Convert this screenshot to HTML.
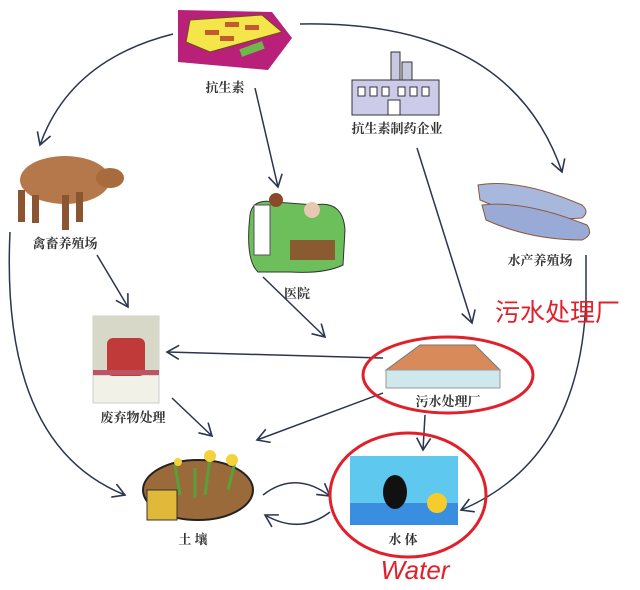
<!DOCTYPE html>
<html><head><meta charset="utf-8"><style>
body{margin:0;background:#fff;width:640px;height:590px;overflow:hidden}
svg{display:block}
.l{font-family:"Liberation Serif","Noto Serif CJK SC",serif;font-size:13px;fill:#333;text-anchor:middle;font-weight:bold}
</style></head><body>
<svg width="640" height="590" viewBox="0 0 640 590">
<defs><marker id="a" markerWidth="16" markerHeight="16" refX="13" refY="8" orient="auto" markerUnits="userSpaceOnUse"><path d="M1,1 L13,8 L1,15" fill="none" stroke="#2b3550" stroke-width="1.6"/></marker></defs>
<g fill="none" stroke="#2b3550" stroke-width="1.5" marker-end="url(#a)">
<path d="M173,34 Q70,60 40,145"/>
<path d="M255,88 L278,187"/>
<path d="M300,24 Q510,20 562,172"/>
<path d="M417,148 L472,323"/>
<path d="M263,277 L325,337"/>
<path d="M97,255 L128,307"/>
<path d="M10,232 Q0,445 125,495"/>
<path d="M586,255 L586,300 Q580,460 461,510"/>
<path d="M383,358 L167,352"/>
<path d="M172,398 L212,436"/>
<path d="M383,393 L257,440"/>
<path d="M425,415 L423,450"/>
<path d="M263,495 Q295,470 330,496"/>
<path d="M330,512 Q300,535 265,515"/>
</g>
<!-- pills -->
<polygon points="178,10 272,12 292,38 268,70 178,62" fill="#b8207a"/>
<polygon points="190,20 262,15 282,32 210,52 186,42" fill="#f4e64a" stroke="#6a5010"/>
<rect x="240" y="45" width="24" height="8" fill="#6cb84a" transform="rotate(-20 252 49)"/>
<g fill="#c45a30"><rect x="205" y="30" width="14" height="5"/><rect x="225" y="22" width="14" height="5"/><rect x="220" y="36" width="14" height="5"/><rect x="245" y="25" width="14" height="5"/></g>
<text class="l" x="225" y="92">抗生素</text>
<!-- factory -->
<rect x="391" y="52" width="9" height="28" fill="#c8c8e0" stroke="#333"/>
<rect x="402" y="62" width="10" height="18" fill="#c8c8e0" stroke="#333"/>
<rect x="352" y="80" width="87" height="35" fill="#ccccea" stroke="#333"/>
<g fill="#fff" stroke="#333"><rect x="358" y="87" width="7" height="9"/><rect x="370" y="87" width="7" height="9"/><rect x="382" y="87" width="7" height="9"/><rect x="398" y="87" width="7" height="9"/><rect x="410" y="87" width="7" height="9"/><rect x="422" y="87" width="7" height="9"/><rect x="388" y="100" width="12" height="15"/></g>
<text class="l" x="397" y="133">抗生素制药企业</text>
<!-- cow -->
<ellipse cx="65" cy="180" rx="45" ry="24" fill="#b5784a"/>
<ellipse cx="110" cy="178" rx="14" ry="10" fill="#a86b3e"/>
<g fill="#8a5530"><rect x="18" y="190" width="7" height="32"/><rect x="32" y="195" width="7" height="28"/><rect x="62" y="195" width="7" height="35"/><rect x="76" y="192" width="7" height="30"/></g>
<text class="l" x="65" y="248">禽畜养殖场</text>
<!-- hospital -->
<path d="M250,215 Q252,198 275,202 L315,205 Q343,200 345,230 L343,265 Q325,274 290,272 L258,272 Q245,260 250,215Z" fill="#6cbf5a" stroke="#333"/>
<rect x="254" y="205" width="16" height="50" fill="#fff" stroke="#555"/>
<circle cx="276" cy="200" r="7" fill="#8a4a2a"/>
<rect x="290" y="240" width="45" height="20" fill="#8a5a30"/>
<circle cx="312" cy="210" r="8" fill="#e8c8b0"/>
<text class="l" x="297" y="298">医院</text>
<!-- fish -->
<path d="M478,185 Q520,178 582,205 Q590,212 582,218 Q530,222 480,200Z" fill="#a8b8dc" stroke="#8a5a40"/>
<path d="M482,205 Q525,200 587,225 Q594,235 582,240 Q530,240 486,220Z" fill="#9aaad6" stroke="#8a5a40"/>
<text class="l" x="540" y="265">水产养殖场</text>
<text x="495" y="321" font-family="Liberation Sans,'Noto Sans CJK SC',sans-serif" font-size="25" fill="#e0202a">污水处理厂</text>
<!-- waste -->
<rect x="93" y="316" width="66" height="87" fill="#f1f1e8" stroke="#ccc"/>
<rect x="93" y="316" width="66" height="60" fill="#d8d8c8"/>
<rect x="107" y="338" width="38" height="38" rx="6" fill="#c03a3a"/>
<rect x="93" y="370" width="66" height="5" fill="#b56"/>
<text class="l" x="133" y="422">废弃物处理</text>
<!-- sewage plant -->
<polygon points="386,370 420,345 475,345 500,370" fill="#d98a5a" stroke="#777"/>
<rect x="386" y="370" width="114" height="18" fill="#cfe8ec" stroke="#999"/>
<ellipse cx="448" cy="375" rx="85" ry="38" fill="none" stroke="#e0202a" stroke-width="3"/>
<text class="l" x="448" y="406">污水处理厂</text>
<!-- soil -->
<ellipse cx="198" cy="490" rx="55" ry="30" fill="#9a6a3a" stroke="#222" stroke-width="2"/>
<rect x="147" y="490" width="30" height="30" fill="#e0b83a" stroke="#333"/>
<g stroke="#5aa03a" stroke-width="3"><path d="M180,495 L175,465"/><path d="M205,495 L210,458"/><path d="M228,490 L235,462"/><path d="M195,498 L195,468"/></g>
<g fill="#f3d23a"><circle cx="210" cy="456" r="6"/><circle cx="232" cy="460" r="6"/><circle cx="178" cy="462" r="4"/></g>
<text class="l" x="193" y="544">土 壤</text>
<!-- water -->
<rect x="350" y="456" width="108" height="69" fill="#5ec8ee"/>
<rect x="350" y="503" width="108" height="22" fill="#3a8ee0"/>
<circle cx="437" cy="503" r="10" fill="#f5cc2a"/>
<ellipse cx="395" cy="492" rx="12" ry="17" fill="#111"/>
<ellipse cx="408" cy="495" rx="78" ry="62" fill="none" stroke="#e0202a" stroke-width="3"/>
<text class="l" x="403" y="544">水 体</text>
<text x="415" y="579" text-anchor="middle" font-family="Liberation Sans,sans-serif" font-size="26" font-style="italic" fill="#e0202a">Water</text>
</svg>
</body></html>
